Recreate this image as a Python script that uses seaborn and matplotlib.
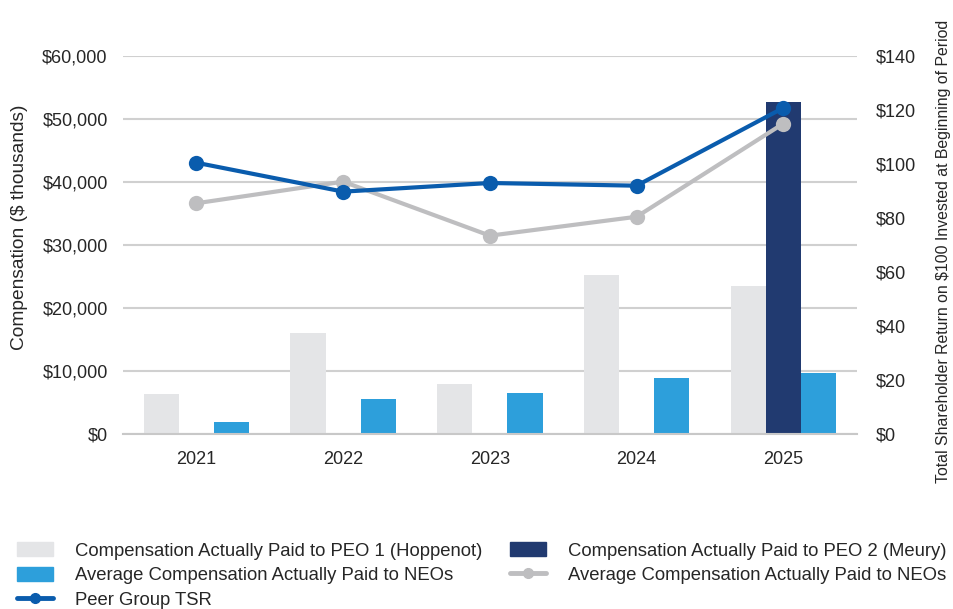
import pandas as pd
import numpy as np
import matplotlib
matplotlib.use("Agg")
import matplotlib.pyplot as plt
import seaborn as sns
from matplotlib.patches import Patch
from matplotlib.lines import Line2D
from matplotlib.ticker import FuncFormatter

# data
years = ["2021", "2022", "2023", "2024", "2025"]
peo1_cap = [6350, 16000, 7950, 25250, 23500]
peo2_cap = [np.nan, np.nan, np.nan, np.nan, 52700]
neo_cap = [1900, 5550, 6500, 8900, 9700]
peer_tsr = [100.5, 89.8, 93.0, 92.0, 120.8]
company_tsr = [85.5, 93.5, 73.5, 80.5, 115.0]

lbl_peo1 = "Compensation Actually Paid to PEO 1 (Hoppenot)"
lbl_peo2 = "Compensation Actually Paid to PEO 2 (Meury)"
lbl_neo = "Average Compensation Actually Paid to NEOs"
lbl_peer = "Peer Group TSR"
lbl_tsr = "Average Compensation Actually Paid to NEOs"

c_peo1 = "#E4E5E7"
c_peo2 = "#213A70"
c_neo = "#2D9FDB"
c_peer = "#0A5CAD"
c_tsr = "#BEBEC0"
c_text = "#262626"

sns.set_theme(style="white")
plt.rcParams["font.family"] = ["Liberation Sans", "DejaVu Sans"]

bars = pd.DataFrame({
    "year": years * 3,
    "series": ["peo1"] * 5 + ["peo2"] * 5 + ["neo"] * 5,
    "value": peo1_cap + peo2_cap + neo_cap,
})

fig = plt.figure(figsize=(9.54, 6.09), dpi=100)
ax = fig.add_axes([0.129, 0.287, 0.769, 0.621])

sns.barplot(data=bars, x="year", y="value", hue="series",
            hue_order=["peo1", "peo2", "neo"],
            palette=[c_peo1, c_peo2, c_neo], width=0.72,
            saturation=1, linewidth=0, legend=False, ax=ax)

ax.set_ylim(0, 60000)
ax.set_yticks(range(0, 60001, 10000))
ax.yaxis.set_major_formatter(FuncFormatter(lambda v, p: f"${v:,.0f}"))
ax.yaxis.grid(True, color="#D0D0D0", lw=1.5)
ax.set_axisbelow(True)
ax.set_xlim(-0.5, 4.5)
ax.set_xlabel("")
ax.set_ylabel("Compensation ($ thousands)", fontsize=13.8, color=c_text)
ax.yaxis.set_label_coords(-0.129, 0.546)
ax.tick_params(axis="both", length=0, labelsize=13, colors=c_text)
ax.tick_params(axis="x", pad=12)
ax.tick_params(axis="y", pad=11)
for s in ["top", "right", "left"]:
    ax.spines[s].set_visible(False)
ax.spines["bottom"].set_color("#C8C8C8")
ax.spines["bottom"].set_linewidth(1.5)

ax2 = ax.twinx()
xpos = list(range(len(years)))
sns.lineplot(x=xpos, y=company_tsr, ax=ax2, color=c_tsr, lw=3,
             marker="o", markersize=11, markeredgewidth=0)
sns.lineplot(x=xpos, y=peer_tsr, ax=ax2, color=c_peer, lw=3,
             marker="o", markersize=11, markeredgewidth=0)
ax2.set_ylim(0, 140)
ax2.set_yticks(range(0, 141, 20))
ax2.yaxis.set_major_formatter(FuncFormatter(lambda v, p: f"${v:.0f}"))
ax2.tick_params(axis="y", length=0, labelsize=13, colors=c_text, pad=14)
ax2.set_ylabel("Total Shareholder Return on $100 Invested at Beginning of Period",
               fontsize=11.4, color=c_text)
ax2.yaxis.set_label_coords(1.108, 0.484)
for s in ["top", "right", "left", "bottom"]:
    ax2.spines[s].set_visible(False)
ax2.grid(False)

handles = [
    Patch(color=c_peo1, label=lbl_peo1),
    Patch(color=c_neo, label=lbl_neo),
    Line2D([], [], color=c_peer, lw=3.5, marker="o", markersize=7, label=lbl_peer),
    Patch(color=c_peo2, label=lbl_peo2),
    Line2D([], [], color=c_tsr, lw=3.5, marker="o", markersize=7, label=lbl_tsr),
]
fig.legend(handles=handles, ncol=2, loc="upper left", bbox_to_anchor=(0.0102, 0.122),
           frameon=False, fontsize=13.3, handlelength=1.95, handleheight=0.8,
           handletextpad=1.2, columnspacing=1.47, labelspacing=0.38,
           labelcolor=c_text, borderaxespad=0)

fig.savefig("out.png", dpi=100)
